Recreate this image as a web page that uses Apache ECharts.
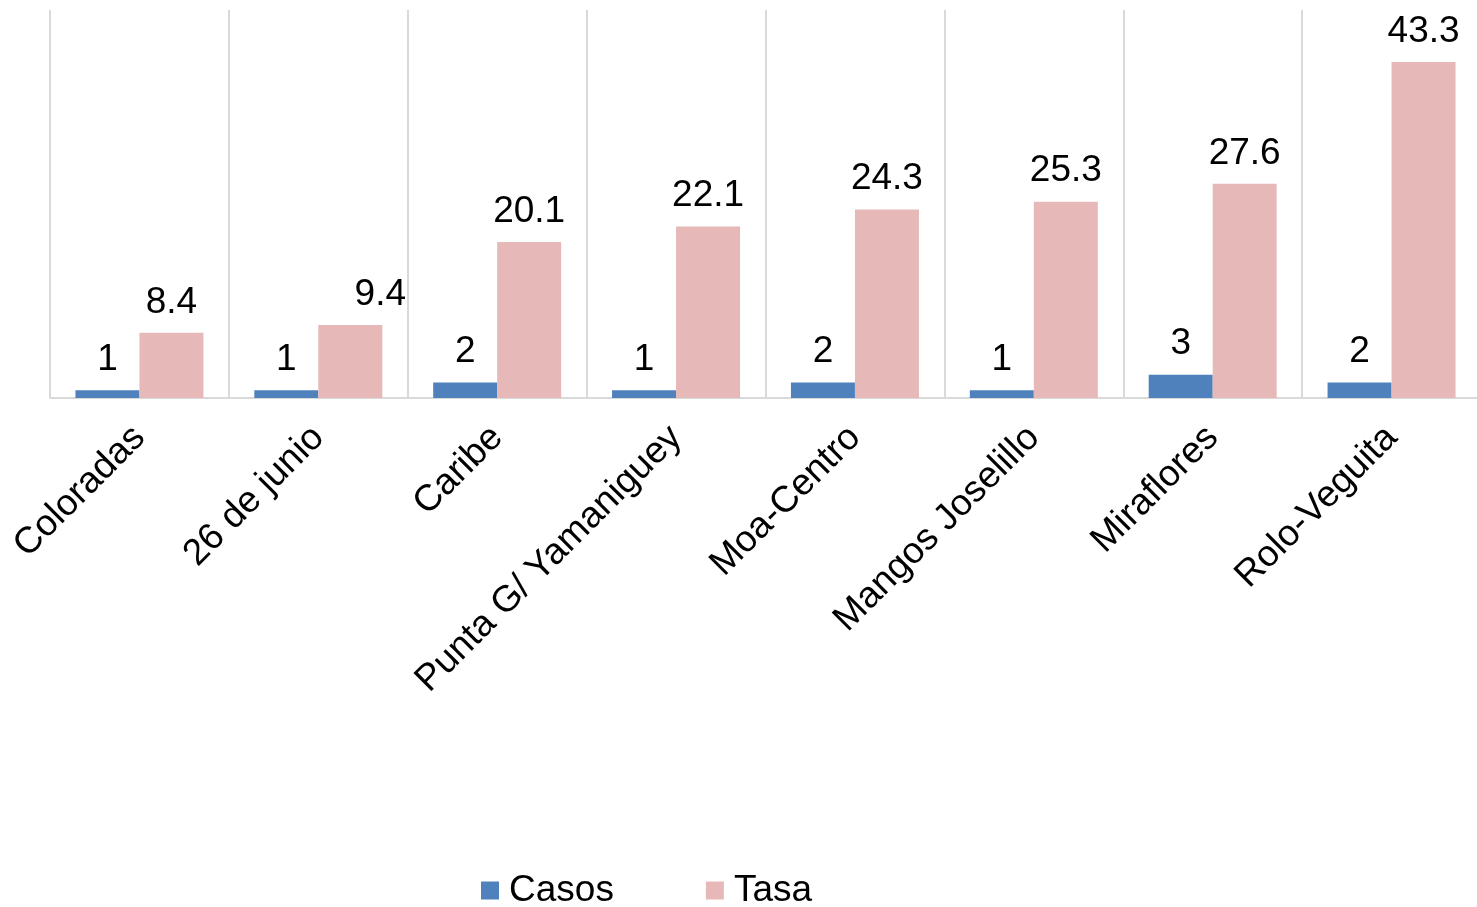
<!DOCTYPE html>
<html>
<head>
<meta charset="utf-8">
<script src="https://cdn.jsdelivr.net/npm/echarts@6/dist/echarts.min.js"></script>
<style>
html,body{margin:0;padding:0;background:#fff;overflow:hidden;}
#main{width:1481px;height:907px;}
</style>
</head>
<body>
<div id="main"></div>
<script>
const categories = ["Coloradas","26 de junio","Caribe","Punta G/ Yamaniguey","Moa-Centro","Mangos Joselillo","Miraflores","Rolo-Veguita"];
const casos = [1,1,2,1,2,1,3,2];
const tasa = [8.4,9.4,20.1,22.1,24.3,25.3,27.6,43.3];

const font = "Arial, 'Liberation Sans', sans-serif";
const chart = echarts.init(document.getElementById('main'));
const labelStyle = {show:true, position:'top', distance:12, fontSize:37, color:'#000', fontFamily:font};
chart.setOption({
  animation:false,
  grid:{left:50, right:0, top:10, height:388, containLabel:false},
  legend:{
    top:867, left:476, itemWidth:18, itemHeight:18, itemGap:92,
    icon:'rect',
    textStyle:{fontSize:37, color:'#000', fontFamily:font, padding:[0,0,0,5]},
    data:['Casos','Tasa']
  },
  xAxis:{
    type:'category', data:categories,
    axisLine:{show:true, lineStyle:{color:'#d9d9d9', width:2}},
    axisTick:{show:false},
    splitLine:{show:true, lineStyle:{color:'#d9d9d9', width:2}},
    axisLabel:{rotate:45, fontSize:37, color:'#000', fontFamily:font, margin:34, interval:0}
  },
  yAxis:{type:'value', min:0, max:50, show:false, splitLine:{show:false}},
  series:[
    {name:'Casos', type:'bar', data:casos, barWidth:64, barGap:'0%',
     itemStyle:{color:'#4F81BD'}, label:labelStyle},
    {name:'Tasa', type:'bar', data:tasa.map((v,i)=> i===1 ? {value:v, label:{offset:[30,0]}} : v), barWidth:64,
     itemStyle:{color:'#E6B8B7'}, label:labelStyle}
  ]
});
</script>
</body>
</html>
